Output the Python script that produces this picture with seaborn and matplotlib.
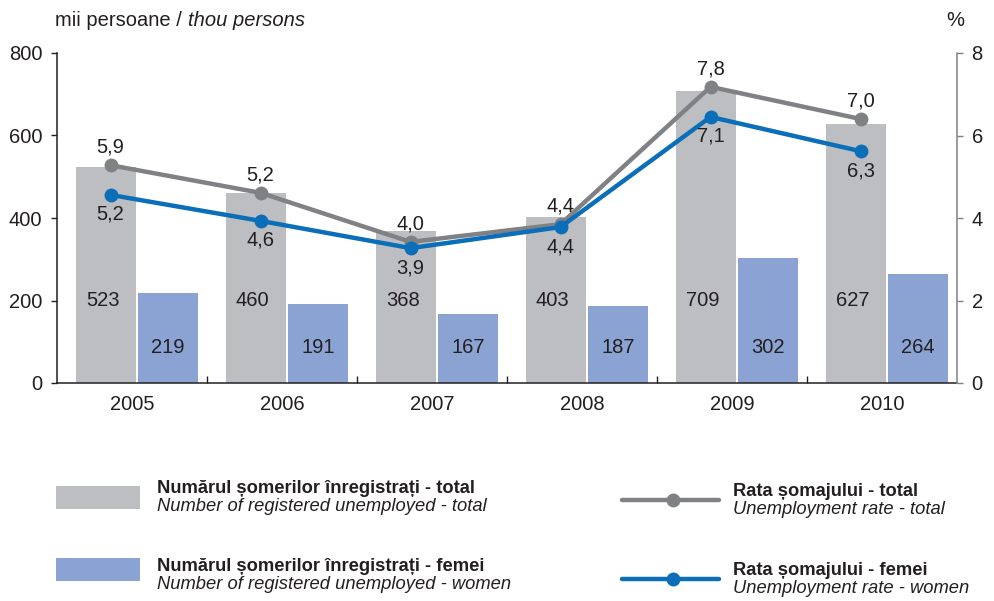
import matplotlib
matplotlib.use("Agg")
import matplotlib.pyplot as plt
import seaborn as sns
import numpy as np
import pandas as pd
from matplotlib.patches import Rectangle
from matplotlib.lines import Line2D
from matplotlib.ticker import FixedLocator

# ---------------- data ----------------
years = ["2005", "2006", "2007", "2008", "2009", "2010"]
unemployed_total = [523, 460, 368, 403, 709, 627]
unemployed_women = [219, 191, 167, 187, 302, 264]
# rate points as drawn on the right axis, and their printed labels
rate_total_drawn = [5.28, 4.61, 3.42, 3.85, 7.18, 6.40]
rate_women_drawn = [4.56, 3.93, 3.27, 3.78, 6.45, 5.62]
rate_total_labels = ["5,9", "5,2", "4,0", "4,4", "7,8", "7,0"]
rate_women_labels = ["5,2", "4,6", "3,9", "4,4", "7,1", "6,3"]

series_names = ["total", "women"]

GRAY_BAR = "#BDBEC2"
BLUE_BAR = "#8BA3D3"
GRAY_LINE = "#808184"
BLUE_LINE = "#0A6EB8"
TXT = "#231F20"
FS = 14.5
LFS = 13.2

sns.set_theme(style="white")
plt.rcParams["font.family"] = ["Liberation Sans", "DejaVu Sans"]

df = pd.DataFrame({
    "year": years * 2,
    "value": unemployed_total + unemployed_women,
    "series": [series_names[0]] * len(years) + [series_names[1]] * len(years),
})

fig = plt.figure(figsize=(9.95, 6.01), dpi=100)
ax = fig.add_axes([57 / 995, 1 - 383 / 601, 900 / 995, 330 / 601])

sns.barplot(data=df, x="year", y="value", hue="series", palette=[GRAY_BAR, BLUE_BAR],
            width=0.82, gap=0.03, saturation=1, legend=False, ax=ax, errorbar=None)
# the bar pairs sit slightly right of the category centre in the reference
BAR_SHIFT = 0.033
for p in ax.patches:
    p.set_x(p.get_x() + BAR_SHIFT)
    p.set_edgecolor("none")

ax.set_xlim(-0.5, len(years) - 0.5)
ax.set_ylim(0, 800)
ax.set_yticks([0, 200, 400, 600, 800])
ax.set_xlabel("")
ax.set_ylabel("")
for s in ["top", "right"]:
    ax.spines[s].set_visible(False)
for s in ["left", "bottom"]:
    ax.spines[s].set_color(TXT)
    ax.spines[s].set_linewidth(1.1)
ax.tick_params(axis="y", which="major", direction="out", length=4.5, width=1.0,
               color=TXT, labelsize=FS, labelcolor=TXT, pad=6, left=True)
ax.tick_params(axis="x", which="major", length=0, labelsize=FS, labelcolor=TXT, pad=9)
ax.xaxis.set_minor_locator(FixedLocator(np.arange(0.5, len(years) - 0.5, 1.0)))
ax.tick_params(axis="x", which="minor", direction="in", length=5, width=1.0, color=TXT,
               bottom=True)

# bar value labels
for i in range(len(years)):
    ax.text(i - 0.195, 199, str(unemployed_total[i]), ha="center", va="center",
            fontsize=FS, color=TXT)
    ax.text(i + 0.24, 87, str(unemployed_women[i]), ha="center", va="center",
            fontsize=FS, color=TXT)

# right axis with rates
ax2 = ax.twinx()
xpos = np.arange(len(years)) - 0.143
sns.lineplot(x=xpos, y=rate_total_drawn, color=GRAY_LINE, linewidth=3.2, marker="o",
             markersize=10, markeredgewidth=0, ax=ax2)
sns.lineplot(x=xpos, y=rate_women_drawn, color=BLUE_LINE, linewidth=3.2, marker="o",
             markersize=10, markeredgewidth=0, ax=ax2)
ax2.set_ylim(0, 8)
ax2.set_yticks([0, 2, 4, 6, 8])
ax2.set_xlim(-0.5, len(years) - 0.5)
for s in ["top", "left", "bottom"]:
    ax2.spines[s].set_visible(False)
ax2.spines["right"].set_color(GRAY_LINE)
ax2.spines["right"].set_linewidth(1.1)
ax2.tick_params(axis="y", direction="out", length=4.5, width=1.0, color=GRAY_LINE,
                labelsize=FS, labelcolor=TXT, pad=6, right=True)
ax2.grid(False)
ax.grid(False)

for i in range(len(years)):
    ax2.annotate(rate_total_labels[i], (xpos[i], rate_total_drawn[i]), xytext=(0, 13),
                 textcoords="offset points", ha="center", va="center", fontsize=FS, color=TXT)
    ax2.annotate(rate_women_labels[i], (xpos[i], rate_women_drawn[i]), xytext=(0, -14),
                 textcoords="offset points", ha="center", va="center", fontsize=FS, color=TXT)

# unit titles
t1 = fig.text(55 / 995, 1 - 20 / 601, "mii persoane / ", ha="left", va="center",
              fontsize=FS, color=TXT)
fig.canvas.draw()
bb = t1.get_window_extent()
fig.text(bb.x1 / 995, 1 - 20 / 601, "thou persons", ha="left", va="center", fontsize=FS,
         color=TXT, style="italic")
fig.text(955 / 995, 1 - 20 / 601, "%", ha="center", va="center", fontsize=FS, color=TXT)

# legend (drawn manually)
def fy(y):
    return 1 - y / 601

fig.add_artist(Rectangle((56 / 995, fy(509)), 84 / 995, 23 / 601, transform=fig.transFigure,
                         facecolor=GRAY_BAR, edgecolor="none"))
fig.add_artist(Rectangle((56 / 995, fy(581)), 84 / 995, 23 / 601, transform=fig.transFigure,
                         facecolor=BLUE_BAR, edgecolor="none"))
fig.add_artist(Line2D([622 / 995, 719 / 995], [fy(500), fy(500)], transform=fig.transFigure,
                      color=GRAY_LINE, linewidth=3.2, marker=None))
fig.add_artist(Line2D([673 / 995], [fy(500)], transform=fig.transFigure, color=GRAY_LINE,
                      marker="o", markersize=10, markeredgewidth=0))
fig.add_artist(Line2D([622 / 995, 719 / 995], [fy(579), fy(579)], transform=fig.transFigure,
                      color=BLUE_LINE, linewidth=3.2))
fig.add_artist(Line2D([673 / 995], [fy(579)], transform=fig.transFigure, color=BLUE_LINE,
                      marker="o", markersize=10, markeredgewidth=0))

leg_items = [
    (157, 493, 511, "Numărul șomerilor înregistrați - total", "Number of registered unemployed - total"),
    (157, 571, 589, "Numărul șomerilor înregistrați - femei", "Number of registered unemployed - women"),
    (733, 496, 514, "Rata șomajului - total", "Unemployment rate - total"),
    (733, 575, 593, "Rata șomajului - femei", "Unemployment rate - women"),
]
for x, yb, yi, bold, ital in leg_items:
    fig.text(x / 995, fy(yb), bold, ha="left", va="baseline", fontsize=LFS, fontweight="bold",
             color=TXT)
    fig.text(x / 995, fy(yi), ital, ha="left", va="baseline", fontsize=LFS, style="italic",
             color=TXT)

fig.savefig("out.png", dpi=100)
